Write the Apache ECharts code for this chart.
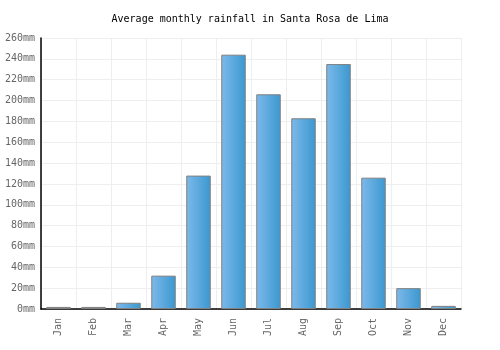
<!DOCTYPE html>
<html>
<head>
<meta charset="utf-8">
<script src="https://cdn.jsdelivr.net/npm/echarts@6/dist/echarts.min.js"></script>
<style>
  html, body { margin: 0; padding: 0; background: #fff; }
  #main { width: 500px; height: 350px; }
</style>
</head>
<body>
<div id="main"></div>
<script>
var months = ["Jan", "Feb", "Mar", "Apr", "May", "Jun", "Jul", "Aug", "Sep", "Oct", "Nov", "Dec"];
var rainfall = [2, 2, 6, 32, 128, 244, 206, 183, 235, 126, 20, 3];

var chart = echarts.init(document.getElementById("main"));
var mono = "DejaVu Sans Mono";

chart.setOption({
  animation: false,
  title: {
    text: "Average monthly rainfall in Santa Rosa de Lima",
    left: "center",
    top: 9,
    textStyle: { fontFamily: mono, fontSize: 10, fontWeight: "normal", color: "#000" }
  },
  grid: { left: 41, right: 39, top: 38, bottom: 41 },
  xAxis: {
    type: "category",
    data: months,
    axisLine: { lineStyle: { color: "#000", width: 1.5 } },
    axisTick: { show: false },
    axisLabel: { rotate: 90, fontFamily: mono, fontSize: 10, color: "#666", margin: 9 },
    splitLine: { show: true, interval: 0, lineStyle: { color: "#eeeeee" } }
  },
  yAxis: {
    type: "value",
    min: 0,
    max: 260,
    interval: 20,
    axisLine: { show: true, lineStyle: { color: "#000", width: 1.5 } },
    axisTick: { show: false },
    axisLabel: { formatter: "{value}mm", fontFamily: mono, fontSize: 10, color: "#666", margin: 6 },
    splitLine: { lineStyle: { color: "#eeeeee" } }
  },
  series: [{
    type: "bar",
    data: rainfall,
    barCategoryGap: "30%",
    itemStyle: {
      borderColor: "#808080",
      borderWidth: 1,
      color: new echarts.graphic.LinearGradient(0, 0, 1, 0, [
        { offset: 0, color: "#7db9ea" },
        { offset: 1, color: "#3a98d0" }
      ])
    }
  }]
});
</script>
</body>
</html>
